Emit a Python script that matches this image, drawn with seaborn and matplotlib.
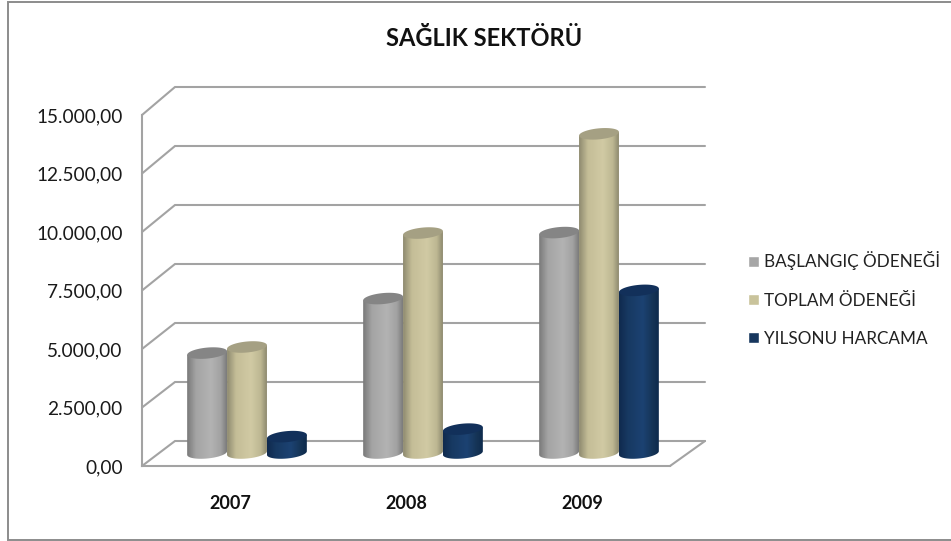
# SAĞLIK SEKTÖRÜ - cylinder look bars on a drawn 3D frame
import numpy as np
import pandas as pd
import seaborn as sns
import matplotlib.pyplot as plt
from matplotlib.colors import to_rgb
from matplotlib.patches import Polygon
from matplotlib.lines import Line2D
from matplotlib.path import Path
from matplotlib.transforms import IdentityTransform

years = ["2007", "2008", "2009"]
baslangic = [4270, 6600, 9420]
toplam = [4530, 9400, 13640]
yilsonu = [700, 1020, 6950]
series_names = ["BAŞLANGIÇ ÖDENEĞİ", "TOPLAM ÖDENEĞİ", "YILSONU HARCAMA"]
tick_values = [0, 2500, 5000, 7500, 10000, 12500, 15000]
tick_labels = ["0,00", "2.500,00", "5.000,00", "7.500,00", "10.000,00", "12.500,00", "15.000,00"]

flat_colors = ["#a6a6a6", "#c9c39b", "#17375e"]
# shading stops across the cylinder, the last colour is the cap
shades = [("#7a7a7a", "#a4a4a4", "#b3b3b3", "#a2a2a2", "#7c7c7c", "#858585"),
          ("#8f8b70", "#c4bd97", "#d1caa4", "#bdb792", "#8f8b70", "#a5a083"),
          ("#102a4e", "#173962", "#1c4272", "#153456", "#0e2a4c", "#12305a")]
stops = [0, 0.22, 0.6, 0.85, 1]

W, H = 951, 541
sns.set_theme(style="white")
plt.rcParams["font.family"] = ["Lato", "DejaVu Sans"]

df = pd.DataFrame({
    "yil": np.repeat(years, 3),
    "kalem": series_names * 3,
    "deger": [v for trio in zip(baslangic, toplam, yilsonu) for v in trio],
})

fig = plt.figure(figsize=(W / 100, H / 100), dpi=100)
ax = fig.add_axes([142 / W, (H - 466) / H, 528 / W, 351 / H])
sns.barplot(data=df, x="yil", y="deger", hue="kalem", hue_order=series_names,
            palette=flat_colors, width=0.68, gap=0, saturation=1, errorbar=None, ax=ax)
ax.set_xlim(-0.5, 2.5)
ax.set_ylim(0, 15000)
ax.set_xlabel("")
ax.set_ylabel("")
ax.set_yticks(tick_values, tick_labels)
ax.tick_params(axis="y", length=0, pad=14, labelsize=13.7, labelcolor="#1a1a1a")
ax.tick_params(axis="x", length=0, pad=21, labelsize=13)
for lab in ax.get_xticklabels():
    lab.set_fontweight("bold")
    lab.set_color("#111111")
ax.patch.set_alpha(0)
for s in ["top", "right"]:
    ax.spines[s].set_visible(False)
for s in ["left", "bottom"]:
    ax.spines[s].set_color("#a3a3a3")
    ax.spines[s].set_linewidth(1.5)

handles, labels = ax.get_legend_handles_labels()
leg = ax.legend(handles, labels, loc="center left", bbox_to_anchor=(748 / W, (H - 299) / H),
                bbox_transform=fig.transFigure, frameon=False, fontsize=12.3, handlelength=0.65,
                handleheight=0.65, handletextpad=0.3, labelspacing=1.3, borderpad=0, borderaxespad=0)
for t in leg.get_texts():
    t.set_color("#222222")

ax.set_autoscale_on(False)
px = IdentityTransform()
grid_col = "#a3a3a3"
DX, DY = 33, 25


def to_px(x, y):
    return ax.transData.transform((x, y))


# walls, every line starts from the tick value on the front edge
for v in tick_values:
    fx, fy = to_px(-0.5, v)
    bx, by = fx + DX, fy + DY + 3 * v / 15000
    ex = to_px(2.5, 0)[0] + DX + 2
    ax.plot([fx, bx, ex], [fy, by, by], color=grid_col, lw=1.5, transform=px,
            clip_on=False, zorder=1, solid_joinstyle="miter")
rx, ry = to_px(2.5, 0)
ax.plot([rx, rx + DX + 2], [ry, ry + DY], color=grid_col, lw=1.5, transform=px, clip_on=False, zorder=1)

# shade every bar as a cylinder, sitting half way into the floor
SHIFT_X, SHIFT_Y = 17, 13
B, SHEAR = 5.5, -0.09
tt = np.linspace(0, 2 * np.pi, 80)
z = 3
for cont, shade in zip(ax.containers, shades):
    ramp = np.array([to_rgb(c) for c in shade[:5]])
    pos = np.linspace(0, 1, 64)
    grad = np.stack([np.interp(pos, stops, ramp[:, i]) for i in range(3)], axis=1)[None, :, :]
    for bar in cont:
        bar.set_visible(False)
        x0, y0 = to_px(bar.get_x(), 0)
        x1, y1 = to_px(bar.get_x() + bar.get_width(), bar.get_height())
        x0, x1 = x0 + SHIFT_X, x1 + SHIFT_X
        y0, y1 = y0 + SHIFT_Y, y1 + SHIFT_Y
        a = (x1 - x0) / 2
        cx = (x0 + x1) / 2

        # body outline: top ellipse left to right, then the lower half of the bottom ellipse
        t_low = np.linspace(0, -np.pi, 40)
        low = np.c_[cx + a * np.cos(t_low), y0 - SHEAR * a * np.cos(t_low) + B * np.sin(t_low)]
        outline = np.vstack([[[x0, y1 + SHEAR * a]], [[x1, y1 - SHEAR * a]], low])
        im = ax.imshow(grad, extent=(x0, x1, y0 - B - 3, y1 + B + 3), aspect="auto", transform=px,
                       interpolation="bilinear", zorder=z)
        im.set_clip_path(Path(np.vstack([outline, outline[:1]]), closed=True), px)

        cap = np.c_[cx + a * np.cos(tt), y1 - SHEAR * a * np.cos(tt) + B * np.sin(tt)]
        ax.add_patch(Polygon(cap, closed=True, facecolor=shade[5], edgecolor="none",
                             transform=px, clip_on=False, zorder=z + 0.5))
        z += 1

ax.set_xlim(-0.5, 2.5)
ax.set_ylim(0, 15000)

fig.text(484 / W, (H - 38) / H, "SAĞLIK SEKTÖRÜ", ha="center", va="center",
         fontsize=17, fontweight="bold", color="#111111")
# outer frame: left, top and bottom only, the right side runs off the picture
fig.add_artist(Line2D([W, 8, 8, W], [H - 2, H - 2, 1, 1], transform=px, color="#8c8c8c",
                      lw=1.4, solid_joinstyle="miter"))

fig.savefig("out.png", dpi=100)
